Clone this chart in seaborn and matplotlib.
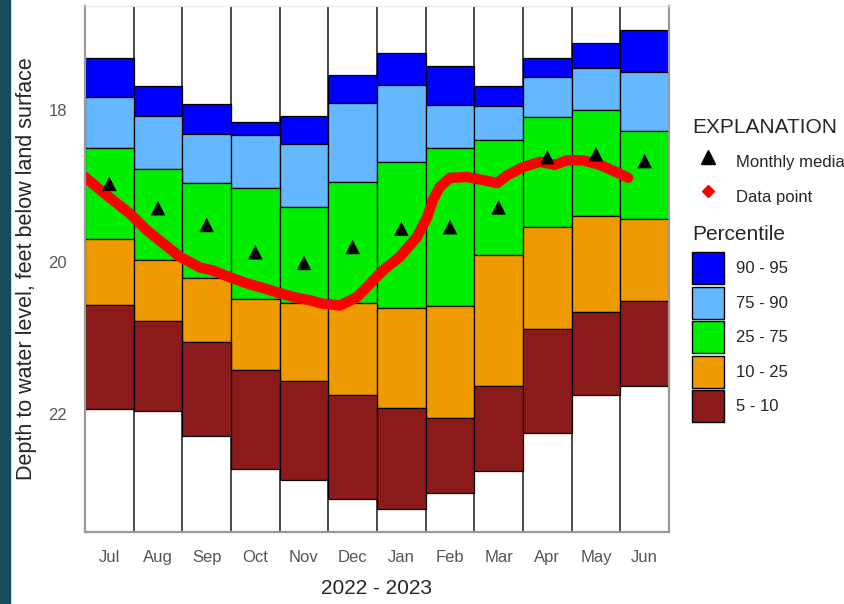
import numpy as np
import pandas as pd
import seaborn as sns
import matplotlib.pyplot as plt
from matplotlib.patches import Patch, Rectangle
from matplotlib.lines import Line2D

# monthly percentiles of depth to water (ft below land surface)
months = ["Jul", "Aug", "Sep", "Oct", "Nov", "Dec", "Jan", "Feb", "Mar", "Apr", "May", "Jun"]
p95 = [17.31, 17.68, 17.92, 18.15, 18.08, 17.54, 17.25, 17.42, 17.68, 17.31, 17.12, 16.95]
p90 = [17.83, 18.08, 18.32, 18.33, 18.45, 17.91, 17.67, 17.93, 17.95, 17.57, 17.44, 17.50]
p75 = [18.50, 18.77, 18.96, 19.02, 19.27, 18.95, 18.68, 18.50, 18.39, 18.09, 18.00, 18.27]
p25 = [19.69, 19.97, 20.21, 20.49, 20.54, 20.54, 20.60, 20.58, 19.90, 19.54, 19.39, 19.43]
p10 = [20.57, 20.78, 21.05, 21.42, 21.56, 21.75, 21.92, 22.05, 21.63, 20.88, 20.65, 20.51]
p05 = [21.93, 21.96, 22.29, 22.72, 22.87, 23.11, 23.25, 23.04, 22.75, 22.25, 21.75, 21.63]
medians = [18.97, 19.29, 19.51, 19.87, 20.01, 19.80, 19.56, 19.54, 19.28, 18.62, 18.58, 18.67]

# daily record 2022-2023, months elapsed since Jul 1
line_months = [0.00, 0.31, 0.92, 1.27, 1.60, 1.95, 2.16, 2.36, 2.63, 2.98,
               3.33, 3.66, 4.01, 4.36, 4.62, 4.83, 5.24, 5.59, 5.79, 6.12,
               6.47, 6.82, 7.03, 7.15, 7.29, 7.50, 7.85, 8.18, 8.47, 8.67,
               9.00, 9.35, 9.66, 9.90, 10.23, 10.58, 10.93, 11.16]
line_depth = [18.88, 19.05, 19.36, 19.58, 19.75, 19.93, 20.00, 20.07, 20.11, 20.20,
              20.28, 20.34, 20.41, 20.47, 20.50, 20.54, 20.57, 20.46, 20.33, 20.11,
              19.93, 19.67, 19.41, 19.18, 19.01, 18.89, 18.88, 18.92, 18.96, 18.86,
              18.75, 18.68, 18.72, 18.66, 18.66, 18.72, 18.82, 18.89]

band_labels = ["90 - 95", "75 - 90", "25 - 75", "10 - 25", "5 - 10"]
band_colors = ["#0000FF", "#63B8FF", "#00EE00", "#EE9A00", "#8B1A1A"]

Y_TOP, Y_BOT = 16.63, 23.55

sns.set_style("white")
plt.rcParams['font.family'] = ['Liberation Sans', 'DejaVu Sans']

fig = plt.figure(figsize=(8.45, 6.04), dpi=100)
fig.patches.append(Rectangle((0, 0), 10/845, 1, transform=fig.transFigure,
                             color="#184b5c", zorder=-1))
ax = fig.add_axes([85/845, 1-532/604, 584/845, 526/604])

# white columns
sns.barplot(x=months, y=[Y_BOT - Y_TOP]*12, bottom=Y_TOP, color="white",
            saturation=1, width=1.0, edgecolor="#4a4a4a", linewidth=1.4,
            errorbar=None, ax=ax)

bounds = [p95, p90, p75, p25, p10, p05]
for i, c in enumerate(band_colors):
    top = np.array(bounds[i])
    bot = np.array(bounds[i+1])
    sns.barplot(x=months, y=bot - top, bottom=top, color=c, saturation=1,
                width=1.0, edgecolor="black", linewidth=0.9, errorbar=None, ax=ax)

df_line = pd.DataFrame({"pos": np.array(line_months) - 0.5, "depth": line_depth})
sns.lineplot(data=df_line, x="pos", y="depth", color="red", linewidth=7.5,
             estimator=None, sort=False, ax=ax)

sns.scatterplot(x=months, y=medians, marker="^", color="black", s=110,
                edgecolor="none", zorder=5, ax=ax)

ax.set_xlim(-0.5, 11.5)
ax.set_ylim(Y_BOT, Y_TOP)
ax.set_yticks([18, 20, 22])
ax.tick_params(axis="y", direction="in", length=6, width=1, color="#333333",
               labelcolor="#555555", labelsize=12, pad=13)
ax.tick_params(axis="x", length=0, labelcolor="#555555", labelsize=12, pad=13)
for s in ["left", "bottom", "right"]:
    ax.spines[s].set_color("#999999")
    ax.spines[s].set_linewidth(1.6)
ax.spines["top"].set_color("#e8e8e8")
ax.set_xlabel("2022 - 2023", fontsize=15, labelpad=10)
ax.set_ylabel("Depth to water level, feet below land surface", fontsize=15.5,
              labelpad=8)

# legend: two groups, titles placed as plain text
fig.text(692/845, 1-133/604, "EXPLANATION", fontsize=15, va="baseline", ha="left")
fig.text(692/845, 1-240/604, "Percentile", fontsize=15, va="baseline", ha="left")

h1 = [Line2D([], [], marker="^", color="black", linestyle="None", markersize=10),
      Line2D([], [], marker="D", color="red", linestyle="None", markersize=6)]
fig.legend(handles=h1, labels=["Monthly median", "Data point"],
           loc="upper left", bbox_to_anchor=(692/845, 1-146/604), frameon=False,
           fontsize=12, handlelength=1.95, handleheight=2.58, labelspacing=0.15,
           handletextpad=0.72, borderpad=0, borderaxespad=0)
h2 = [Patch(facecolor=c, edgecolor="black", linewidth=1) for c in band_colors]
fig.legend(handles=h2, labels=band_labels,
           loc="upper left", bbox_to_anchor=(692/845, 1-252/604), frameon=False,
           fontsize=12, handlelength=1.95, handleheight=2.58, labelspacing=0.15,
           handletextpad=0.72, borderpad=0, borderaxespad=0)

fig.savefig("out.png", dpi=100)
